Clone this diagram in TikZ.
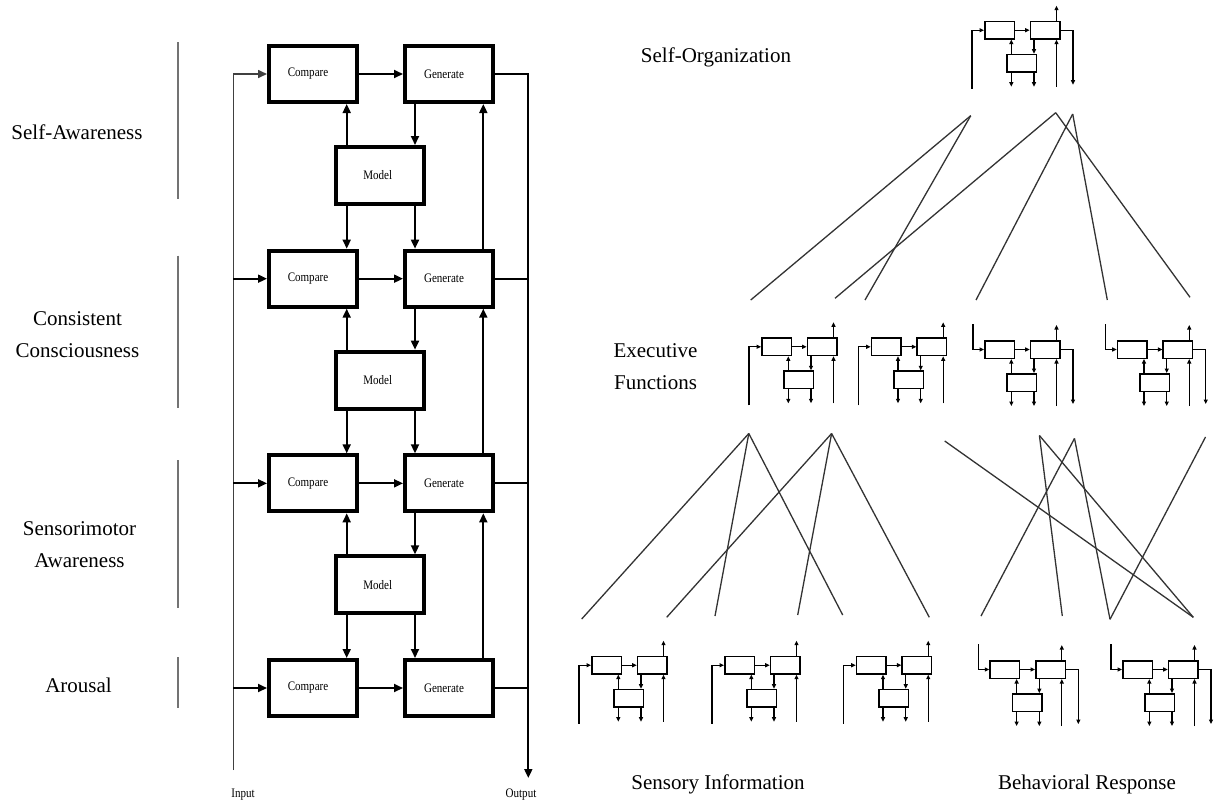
\documentclass[tikz,border=0pt]{standalone}
\usepackage{fontspec}
\setmainfont{Liberation Serif}
\usepackage{graphicx}
\usetikzlibrary{arrows.meta}
\newcommand\lblfont{\fontsize{21}{32}\selectfont}
\newcommand\boxfont{\fontsize{13}{15}\selectfont}
\newcommand\sq[1]{\scalebox{0.85}[1]{#1}}
\begin{document}
\begin{tikzpicture}[x=1pt, y=-1pt,
  bigbox/.style={draw, line width=4pt, minimum width=88pt, minimum height=56pt, inner sep=0pt, font=\boxfont},
  lbl/.style={font=\lblfont, inner sep=0pt, align=center},
  small/.style={font=\boxfont, inner sep=0pt},
  arr/.style={line width=1.8pt, -{Triangle[length=9pt,width=8pt]}},
  ln/.style={line width=1.8pt},
  inl/.style={line width=1.6pt, draw=black!75, -{Triangle[length=9pt,width=8pt]}},
  brk/.style={line width=1.4pt, draw=black!55},
  mbox/.style={draw, line width=1.5pt, minimum width=29.5pt, minimum height=17.5pt, inner sep=0pt},
  marr/.style={line width=1.2pt, -{Triangle[length=4.5pt,width=4pt]}},
  link/.style={line width=1.3pt, draw=black!80},
  pics/modu/.style 2 args={code={
    \node[mbox] (-b1) at (15.5,9.5) {};
    \node[mbox] (-b2) at (61.2,9.5) {};
    \node[mbox] (-m) at (37.8,42.5) {};
    \coordinate (-d1) at (27.3,66);
    \coordinate (-d2) at (50,66);
    \coordinate (-top) at (72.5,-15);
    \coordinate (-rb) at (72.5,66);
    \draw[marr] (-b1) -- (-b2);
    \draw[marr] (-d1 |- -m.north) -- (-d1 |- -b1.south);
    \draw[marr] (-d2 |- -b2.south) -- (-d2 |- -m.north);
    \draw[marr] (-d1 |- -m.south) -- (-d1);
    \draw[marr] (-d2 |- -m.south) -- (-d2);
    \draw[marr] (-top |- -b2.north) -- (-top);
    \draw[marr] (-rb) -- (-rb |- -b2.south);
    \ifnum#1=1
      \coordinate (-in) at (-12,68);
    \else
      \coordinate (-in) at (-11,-16);
    \fi
    \draw[marr] (-in) |- (-b1.west);
    \ifnum#2=1
      \coordinate (-out) at (89,64);
      \draw[marr] (-b2.east) -| (-out);
    \fi
  }}
]
\fill[white] (0,0) rectangle (1214,801);
\useasboundingbox (0,0) rectangle (1214,801);

% ---------- left diagram ----------
\foreach \i in {1,...,4} {
  \pgfmathsetmacro\yy{74+204.667*(\i-1)}
  \node[bigbox] (c\i) at (313,\yy) {\sq{Compare}\hspace*{10pt}};
  \node[bigbox] (g\i) at (449,\yy) {\sq{Generate}\hspace*{10pt}};
}
\foreach \i in {1,2,3} {
  \pgfmathsetmacro\yy{175.5+204.667*(\i-1)}
  \node[bigbox, minimum height=57pt] (m\i) at (380,\yy) {\sq{Model}\hspace*{4.5pt}};
}
\coordinate (inBot) at (233.3,770);
\coordinate (outBot) at (528.3,778);
\coordinate (xM1) at (346.7,0);
\coordinate (xM2) at (415,0);
\coordinate (xG) at (483.3,0);

\draw[inl] (inBot) |- (c1.west);
\foreach \i in {2,3,4} { \draw[arr] (inBot |- c\i.west) -- (c\i.west); }
\foreach \i in {1,...,4} { \draw[arr] (c\i) -- (g\i); }
\draw[arr] (g1.east) -| (outBot);
\foreach \i in {2,3,4} { \draw[ln] (g\i.east) -- (outBot |- g\i.east); }
\foreach \i/\j in {1/2,2/3,3/4} {
  \draw[arr] (xM1 |- m\i.north) -- (xM1 |- c\i.south);
  \draw[arr] (xM2 |- g\i.south) -- (xM2 |- m\i.north);
  \draw[arr] (xM1 |- m\i.south) -- (xM1 |- c\j.north);
  \draw[arr] (xM2 |- m\i.south) -- (xM2 |- g\j.north);
  \draw[arr] (xG |- g\j.north) -- (xG |- g\i.south);
}

% brackets
\draw[brk] (178,42) -- (178,199);
\draw[brk] (178,255.7) -- (178,408);
\draw[brk] (178,460) -- (178,608);
\draw[brk] (178,657) -- (178,708);

% labels
\node[lbl, anchor=base] (lSA) at (77,139.5) {Self-Awareness};
\node[lbl, anchor=base] (lCC) at (77.5,357) {Consistent\\Consciousness};
\node[lbl, anchor=base] (lSM) at (79.5,567) {Sensorimotor\\Awareness};
\node[lbl, anchor=base] (lAR) at (78.5,692) {Arousal};
\node[small, anchor=base] (lIn) at (243,797) {\sq{Input}};
\node[small, anchor=base] (lOut) at (521,797) {\sq{Output}};

% ---------- right diagram ----------
\pic (T) at (984,20.7) {modu={1}{1}};
\pic (E1) at (761,337.3) {modu={1}{0}};
\pic (E2) at (870.7,337.3) {modu={1}{0}};
\pic (E3) at (984,340) {modu={0}{1}};
\pic (E4) at (1116.7,340) {modu={0}{1}};
\pic (S1) at (591,655.7) {modu={1}{0}};
\pic (S2) at (724,655.7) {modu={1}{0}};
\pic (S3) at (855.7,655.7) {modu={1}{0}};
\pic (B1) at (989.3,660) {modu={0}{1}};
\pic (B2) at (1122,660) {modu={0}{1}};

% upper links
\coordinate (a1) at (970.7,115.7);
\coordinate (a2) at (1055.7,112.7);
\coordinate (a3) at (1072.7,114);
\coordinate (e1a) at (750.7,300);
\coordinate (e1b) at (835,298.3);
\coordinate (e2a) at (865,300);
\coordinate (e3a) at (976,300);
\coordinate (e4a) at (1107.3,300);
\coordinate (e4b) at (1190,297.3);
\draw[link] (a1) -- (e1a);
\draw[link] (a1) -- (e2a);
\draw[link] (a2) -- (e1b);
\draw[link] (a2) -- (e4b);
\draw[link] (a3) -- (e3a);
\draw[link] (a3) -- (e4a);

% lower links
\coordinate (b1) at (748.8,433.5);
\coordinate (b2) at (831.6,433.5);
\coordinate (b3) at (944.7,441);
\coordinate (b4) at (1039.4,435.5);
\coordinate (b5) at (1074.5,438.4);
\coordinate (b6) at (1205.5,437);
\coordinate (s1a) at (581.7,619);
\coordinate (s1b) at (666.7,617.3);
\coordinate (s2a) at (715,616);
\coordinate (s2b) at (797.7,615);
\coordinate (s3a) at (842.7,615);
\coordinate (s3b) at (929.3,617.3);
\coordinate (r1a) at (981,616);
\coordinate (r1b) at (1062.3,616);
\coordinate (r2a) at (1110,619.3);
\coordinate (r2b) at (1193.3,617.3);
\draw[link] (b1) -- (s1a);
\draw[link] (b1) -- (s2a);
\draw[link] (b1) -- (s3a);
\draw[link] (b2) -- (s1b);
\draw[link] (b2) -- (s2b);
\draw[link] (b2) -- (s3b);
\draw[link] (b3) -- (r2b);
\draw[link] (b4) -- (r1b);
\draw[link] (b4) -- (r2b);
\draw[link] (b5) -- (r1a);
\draw[link] (b5) -- (r2a);
\draw[link] (b6) -- (r2a);

% right labels
\node[lbl, anchor=base] (lSO) at (716,62) {Self-Organization};
\node[lbl, anchor=base] (lEF) at (655.5,389) {Executive\\Functions};
\node[lbl, anchor=base] (lSI) at (718,789) {Sensory Information};
\node[lbl, anchor=base] (lBR) at (1087,789) {Behavioral Response};
\end{tikzpicture}
\end{document}
